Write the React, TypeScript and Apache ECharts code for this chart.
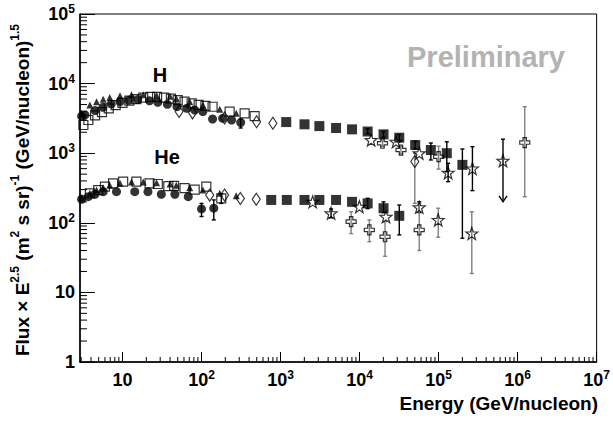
import React, { useEffect, useRef } from "react";
import * as echarts from "echarts";

// ---------- axis ranges / ticks ----------
const X_MIN = 2.9;
const X_MAX = 1e7;
const Y_MIN = 1;
const Y_MAX = 1e5;
const X_MAJOR = [10, 1e2, 1e3, 1e4, 1e5, 1e6, 1e7];
const Y_MAJOR = [1, 10, 1e2, 1e3, 1e4, 1e5];

// ---------- H data ----------
const H_circE = [3.04, 3.35, 4.5, 5.65, 7.2, 9.3, 12, 15.6, 22, 28, 37, 49, 65, 82, 104, 138, 185, 240, 313];
const H_circF = [3400, 3550, 4100, 4560, 5100, 5500, 5750, 5900, 5650, 5380, 5030, 4660, 4420, 4170, 3960, 3100, 3170, 3000, 2750];
const H_openSqE = [3.2, 3.7, 4.5, 5.5, 6.7, 8.2, 10, 12.2, 15, 18.3, 22.4, 27.4, 33.5, 41, 50, 61, 75, 92, 112, 138, 227, 351, 470];
const H_openSqF = [2540, 3000, 3500, 3900, 4400, 4900, 5300, 5700, 6000, 6300, 6450, 6450, 6300, 6100, 5800, 5500, 5200, 4950, 4800, 4650, 3960, 3740, 3400];
const H_triE = [3.04, 3.87, 4.7, 5.7, 6.9, 9.3, 13, 18.3, 27, 40, 48, 71, 104, 170, 275];
const H_triF = [3740, 4930, 5500, 5940, 6330, 6700, 6900, 6900, 6800, 6600, 6130, 5500, 4930, 4270, 3740];
const H_diaE = [52, 77, 196, 498, 800, 50000];
const H_diaF = [3970, 3800, 3200, 2830, 2690, 760];
const H_fillSqE = [1180, 2010, 3100, 5040, 8030, 12650, 20100, 31800, 50600, 79800, 127000, 200000];
const H_fillSqF = [2800, 2600, 2450, 2300, 2200, 2050, 1865, 1670, 1310, 1110, 1000, 680];
const H_starE = [14000, 28900, 56900, 132000, 268000, 653000];
const H_starF = [1550, 1460, 1000, 525, 605, 780];
const H_crossE = [19500, 33400, 100000, 1230000];
const H_crossF = [1390, 1110, 890, 1420];

// ---------- He data ----------
const He_circE = [3.04, 3.69, 4.48, 5.7, 8.4, 14.3, 21, 31, 46, 68, 100, 143];
const He_circF = [218, 237, 257, 280, 280, 280, 280, 257, 257, 237, 158, 162];
const He_openSqE = [3.87, 4.93, 6, 7.6, 10.2, 15, 22, 28, 38, 45, 61, 82, 115, 178];
const He_openSqF = [265, 295, 330, 369, 390, 390, 369, 361, 337, 340, 315, 300, 330, 224];
const He_triE = [3.04, 3.87, 4.7, 5.7, 6.9, 9.3, 13, 18.3, 27, 40, 48, 71, 104, 170, 275];
const He_triF = [230, 265, 295, 320, 345, 370, 385, 385, 375, 360, 345, 320, 295, 265, 245];
const He_diaE = [127, 196, 310, 493];
const He_diaF = [250, 250, 224, 218];
const He_fillSqE = [762, 1200, 2010, 3100, 5040, 8030, 12650, 20100, 31800];
const He_fillSqF = [213, 213, 213, 213, 213, 200, 190, 162, 126];
const He_starE = [2550, 4360, 9940, 21600, 56900, 98900, 263000];
const He_starF = [200, 137, 170, 122, 167, 110, 70.5];
const He_crossE = [7820, 13300, 21000, 56900];
const He_crossF = [104, 79, 63, 79];

// ---------- error bars [E, low, high] ----------
const blackErrors: number[][] = [
  [313, 2300, 3100],
  [100, 123, 190],
  [143, 110, 213],
  [178, 190, 260],
  [50600, 1150, 1480],
  [79800, 800, 1400],
  [127000, 542, 1460],
  [200000, 60, 1150],
  [12650, 1900, 2250],
  [20100, 1700, 2050],
  [31800, 1500, 1850],
  [12650, 160, 225],
  [20100, 140, 200],
  [31800, 67, 180],
  [4360, 118, 158],
  [132000, 390, 716],
  [268000, 290, 1240],
  [56900, 140, 200],
];
const greyErrors: number[][] = [
  [50000, 190, 1000],
  [19500, 1250, 1550],
  [33400, 980, 1250],
  [100000, 590, 1260],
  [1230000, 237, 4660],
  [7820, 70, 144],
  [13300, 53.5, 110],
  [21000, 33, 104],
  [56900, 40, 193],
  [98900, 62, 162],
  [263000, 18.7, 144],
];
// upper limit: [E, low (arrow tip), high]
const upperLimits: number[][] = [[653000, 200, 1590]];

const STAR =
  "path://M0,-10 L2.35,-3.24 L9.51,-3.09 L3.8,1.24 L5.88,8.09 L0,4 L-5.88,8.09 L-3.8,1.24 L-9.51,-3.09 L-2.35,-3.24 Z";
const CROSS =
  "path://M-1,-3 L1,-3 L1,-1 L3,-1 L3,1 L1,1 L1,3 L-1,3 L-1,1 L-3,1 L-3,-1 L-1,-1 Z";

const L = Math.log10;
const FONT = "Liberation Sans, Arial, Helvetica, sans-serif";

function pts(E: number[], F: number[]) {
  return E.map((e, i) => [L(e), L(F[i])]);
}

function minorTicks(lo: number, hi: number) {
  const out: number[] = [];
  for (let d = Math.floor(L(lo)); d < Math.ceil(L(hi)); d++) {
    for (let m = 2; m <= 9; m++) {
      const v = m * Math.pow(10, d);
      if (v > lo && v < hi) out.push(L(v));
    }
  }
  return out;
}

function scatter(name: string, data: number[][], symbol: string, size: any, filled: boolean, z = 5) {
  return {
    name,
    type: "scatter",
    data,
    symbol,
    symbolSize: size,
    z,
    itemStyle: filled
      ? { color: "#000" }
      : { color: "rgba(0,0,0,0)", borderColor: "#000", borderWidth: 1.2 },
  };
}

function errorSeries(rows: number[][], color: string) {
  return {
    type: "custom",
    z: 3,
    data: rows.map((r) => [L(r[0]), L(r[1]), L(r[2])]),
    renderItem: (params: any, api: any) => {
      const x = api.value(0);
      const p1 = api.coord([x, api.value(1)]);
      const p2 = api.coord([x, api.value(2)]);
      const st = { stroke: color, lineWidth: 1.4 };
      return {
        type: "group",
        children: [
          { type: "line", shape: { x1: p1[0], y1: p1[1], x2: p2[0], y2: p2[1] }, style: st },
          { type: "line", shape: { x1: p1[0] - 2, y1: p1[1], x2: p1[0] + 2, y2: p1[1] }, style: st },
          { type: "line", shape: { x1: p2[0] - 2, y1: p2[1], x2: p2[0] + 2, y2: p2[1] }, style: st },
        ],
      };
    },
  };
}

function limitSeries(rows: number[][]) {
  return {
    type: "custom",
    z: 3,
    data: rows.map((r) => [L(r[0]), L(r[1]), L(r[2])]),
    renderItem: (params: any, api: any) => {
      const x = api.value(0);
      const p1 = api.coord([x, api.value(1)]);
      const p2 = api.coord([x, api.value(2)]);
      const st = { stroke: "#000", lineWidth: 1.4, fill: "none" };
      return {
        type: "group",
        children: [
          { type: "line", shape: { x1: p1[0], y1: p1[1], x2: p2[0], y2: p2[1] }, style: st },
          { type: "line", shape: { x1: p2[0] - 2, y1: p2[1], x2: p2[0] + 2, y2: p2[1] }, style: st },
          {
            type: "polyline",
            shape: { points: [[p1[0] - 4, p1[1] - 6], [p1[0], p1[1]], [p1[0] + 4, p1[1] - 6]] },
            style: st,
          },
        ],
      };
    },
  };
}

function tickSeries(values: number[], axis: "x" | "y", len: number) {
  return {
    type: "custom",
    z: 10,
    silent: true,
    data: values.map((v) => [v]),
    renderItem: (params: any, api: any) => {
      const v = api.value(0);
      if (axis === "x") {
        const p = api.coord([v, L(Y_MIN)]);
        return { type: "line", shape: { x1: p[0], y1: p[1], x2: p[0], y2: p[1] - len }, style: { stroke: "#000", lineWidth: 1 } };
      }
      const p = api.coord([L(X_MIN), v]);
      return { type: "line", shape: { x1: p[0], y1: p[1], x2: p[0] + len, y2: p[1] }, style: { stroke: "#000", lineWidth: 1 } };
    },
  };
}

const powLabel = (v: number) => {
  const n = Math.round(v);
  if (n === 0) return "{b|1}";
  if (n === 1) return "{b|10}";
  return "{b|10}{s|" + n + "}";
};
const labelRich = {
  b: { fontSize: 18, fontWeight: "bold", fontFamily: FONT, color: "#000", lineHeight: 22 },
  s: { fontSize: 12, fontWeight: "bold", fontFamily: FONT, color: "#000", verticalAlign: "top", lineHeight: 14 },
};

export default function App() {
  const ref = useRef<HTMLDivElement>(null);
  useEffect(() => {
    if (!ref.current) return;
    const chart = echarts.init(ref.current, null, { renderer: "svg" });
    const titleRich = {
      n: { fontSize: 19, fontWeight: "bold", fontFamily: FONT, color: "#000", lineHeight: 26 },
      s: { fontSize: 12, fontWeight: "bold", fontFamily: FONT, color: "#000", verticalAlign: "top", lineHeight: 14 },
    };
    const option: any = {
      animation: false,
      backgroundColor: "#fff",
      grid: { left: 80, right: 15, top: 14, bottom: 61, show: true, borderColor: "#000", borderWidth: 1 },
      xAxis: {
        type: "value",
        min: L(X_MIN),
        max: L(X_MAX),
        axisLine: { show: true, lineStyle: { color: "#000", width: 1.5 } },
        axisTick: { show: true, inside: true, length: 10, customValues: X_MAJOR.map(L), lineStyle: { color: "#000" } },
        axisLabel: { customValues: X_MAJOR.map(L), formatter: powLabel, rich: labelRich, margin: 7, fontSize: 18 },
        splitLine: { show: false },
      },
      yAxis: {
        type: "value",
        min: L(Y_MIN),
        max: L(Y_MAX),
        axisLine: { show: true, lineStyle: { color: "#000", width: 1.5 } },
        axisTick: { show: true, inside: true, length: 15, customValues: Y_MAJOR.map(L), lineStyle: { color: "#000" } },
        axisLabel: { customValues: Y_MAJOR.map(L), formatter: powLabel, rich: labelRich, margin: 5, fontSize: 18 },
        splitLine: { show: false },
      },
      graphic: [
        {
          type: "text",
          x: 565,
          y: 57,
          style: { text: "Preliminary", fill: "#b3b3b3", font: "bold 29px " + FONT, textAlign: "right", textVerticalAlign: "middle" },
        },
        { type: "text", x: 160, y: 75, style: { text: "H", fill: "#000", font: "bold 20px " + FONT, textAlign: "center", textVerticalAlign: "middle" } },
        { type: "text", x: 167, y: 157, style: { text: "He", fill: "#000", font: "bold 20px " + FONT, textAlign: "center", textVerticalAlign: "middle" } },
        {
          type: "text",
          x: 598,
          y: 403,
          style: { text: "Energy (GeV/nucleon)", fill: "#000", font: "bold 19px " + FONT, textAlign: "right", textVerticalAlign: "middle" },
        },
        {
          type: "text",
          x: 22,
          y: 190,
          rotation: Math.PI / 2,
          style: {
            text: "{n|Flux × E}{s|2.5}{n| (m}{s|2}{n| s sr)}{s|-1}{n| (GeV/nucleon)}{s|1.5}",
            rich: titleRich,
            textAlign: "center",
            textVerticalAlign: "middle",
          },
        },
      ],
      series: [
        tickSeries(minorTicks(X_MIN, X_MAX), "x", 5),
        tickSeries(minorTicks(Y_MIN, Y_MAX), "y", 7),
        errorSeries(blackErrors, "#000"),
        errorSeries(greyErrors, "#808080"),
        limitSeries(upperLimits),
        scatter("H open square", pts(H_openSqE, H_openSqF), "rect", 9, false),
        scatter("H triangle", pts(H_triE, H_triF), "triangle", 7, true),
        scatter("H circle", pts(H_circE, H_circF), "circle", 9, true),
        scatter("H diamond", pts(H_diaE, H_diaF), "diamond", [8, 12], false),
        scatter("H filled square", pts(H_fillSqE, H_fillSqF), "rect", 10, true),
        scatter("H star", pts(H_starE, H_starF), STAR, 12, false),
        scatter("H cross", pts(H_crossE, H_crossF), CROSS, 10, false),
        scatter("He open square", pts(He_openSqE, He_openSqF), "rect", 9, false),
        scatter("He triangle", pts(He_triE, He_triF), "triangle", 7, true),
        scatter("He circle", pts(He_circE, He_circF), "circle", 9, true),
        scatter("He diamond", pts(He_diaE, He_diaF), "diamond", [8, 12], false),
        scatter("He filled square", pts(He_fillSqE, He_fillSqF), "rect", 10, true),
        scatter("He star", pts(He_starE, He_starF), STAR, 12, false),
        scatter("He cross", pts(He_crossE, He_crossF), CROSS, 10, false),
      ],
    };
    chart.setOption(option);
    return () => chart.dispose();
  }, []);
  return <div ref={ref} style={{ position: "fixed", left: 0, top: 0, width: 613, height: 423 }} />;
}
